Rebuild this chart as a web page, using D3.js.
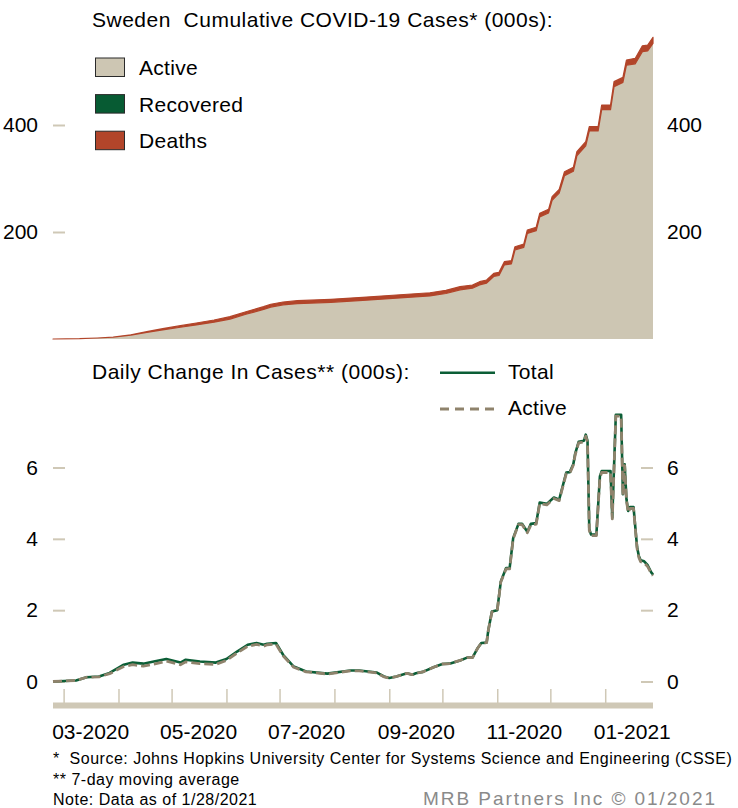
<!DOCTYPE html>
<html>
<head>
<meta charset="utf-8">
<script src="https://cdn.jsdelivr.net/npm/d3@7"></script>
<style>
  body { margin: 0; background: #fff; }
  svg { display: block; }
  text { font-family: "Liberation Sans", Arial, Helvetica, sans-serif; fill: #000; }
</style>
</head>
<body>
<svg id="chart" width="738" height="808"></svg>
<script>
// ---- Cumulative cases (000s), stacked: active / recovered / deaths ----
const cumDates = [
  "2020-02-24","2020-03-10","2020-03-20","2020-03-29","2020-04-08","2020-04-17","2020-04-26",
  "2020-05-06","2020-05-15","2020-05-25","2020-06-03","2020-06-12","2020-06-22","2020-06-26",
  "2020-07-03","2020-07-11","2020-07-30","2020-08-17","2020-09-05","2020-09-24","2020-10-03",
  "2020-10-11","2020-10-18","2020-10-22","2020-10-26","2020-10-30","2020-11-02","2020-11-05",
  "2020-11-09","2020-11-11","2020-11-16","2020-11-18","2020-11-23","2020-11-25","2020-11-30",
  "2020-12-02","2020-12-06","2020-12-09","2020-12-14","2020-12-16","2020-12-21","2020-12-23",
  "2020-12-28","2020-12-30","2021-01-04","2021-01-06","2021-01-11","2021-01-13","2021-01-18",
  "2021-01-22","2021-01-25","2021-01-28"
];
const cumActive = [
  0, 0.6, 1.88, 3.59, 7.31, 12.3, 17.1,
  22.0, 26.3, 31.5, 37.2, 46.2, 55.3, 59.7,
  63.8, 66.1, 68.5, 72.1, 76.4, 80.6, 85.1,
  91.9, 95.0, 101.2, 104.4, 116.8, 118.7, 138.5,
  140.3, 166.3, 171.3, 197.3, 202.3, 228.3, 235.6,
  259.1, 272.7, 305.4, 313.4, 342.3, 360.9, 388.8,
  388.8, 428.7, 428.7, 471.7, 479.6, 511.7, 514.4,
  537.0, 538.5, 552.5
];
const cumRecovered = [
  0, 0, 0, 0, 0, 0, 0,
  0, 0, 0, 0, 0, 0, 0,
  0, 0, 0, 0, 0, 0, 0,
  0, 0, 0, 0, 0, 0, 0,
  0, 0, 0, 0, 0, 0, 0,
  0, 0, 0, 0, 0, 0, 0,
  0, 0, 0, 0, 0, 0, 0,
  0, 0, 0
];
const cumDeaths = [
  0, 0, 0.02, 0.11, 0.69, 1.4, 2.2,
  2.9, 3.6, 4.0, 4.5, 4.8, 5.1, 5.2,
  5.4, 5.5, 5.7, 5.8, 5.83, 5.87, 5.89,
  5.9, 5.92, 5.93, 5.94, 5.97, 6.0, 6.05,
  6.1, 6.16, 6.3, 6.4, 6.55, 6.68, 6.8,
  6.95, 7.1, 7.3, 7.5, 7.7, 7.9, 8.0,
  8.0, 8.7, 8.7, 9.3, 9.4, 9.8, 10.3,
  11.0, 11.0, 11.5
];

// ---- Daily change in cases (000s), 7-day moving average ----
const dailyDates = [
  "2020-02-24","2020-03-08","2020-03-14","2020-03-21","2020-03-27","2020-04-04","2020-04-09",
  "2020-04-15","2020-04-21","2020-04-28","2020-05-06","2020-05-09","2020-05-17","2020-05-26",
  "2020-06-01","2020-06-07","2020-06-13","2020-06-18","2020-06-22","2020-06-24","2020-06-29",
  "2020-07-03","2020-07-09","2020-07-16","2020-07-28","2020-08-10","2020-08-15","2020-08-25",
  "2020-08-29","2020-09-01","2020-09-05","2020-09-11","2020-09-14","2020-09-16","2020-09-20",
  "2020-09-26","2020-10-01","2020-10-05","2020-10-11","2020-10-15","2020-10-18","2020-10-21",
  "2020-10-23","2020-10-26","2020-10-27","2020-10-29","2020-11-01","2020-11-03","2020-11-06",
  "2020-11-08","2020-11-10","2020-11-13","2020-11-15","2020-11-18","2020-11-20","2020-11-23",
  "2020-11-25","2020-11-29","2020-12-03","2020-12-06","2020-12-10","2020-12-12","2020-12-14",
  "2020-12-15","2020-12-17","2020-12-20","2020-12-21","2020-12-22","2020-12-23","2020-12-24",
  "2020-12-27","2020-12-29","2020-12-30","2021-01-04","2021-01-05","2021-01-07","2021-01-10",
  "2021-01-11","2021-01-12","2021-01-13","2021-01-14","2021-01-15","2021-01-17","2021-01-19",
  "2021-01-20","2021-01-21","2021-01-23","2021-01-25","2021-01-27","2021-01-28"
];
const dailyTotal = [
  0.00, 0.03, 0.12, 0.14, 0.24, 0.47, 0.53,
  0.50, 0.56, 0.63, 0.53, 0.61, 0.56, 0.53,
  0.63, 0.84, 1.03, 1.08, 1.03, 1.06, 1.08,
  0.75, 0.42, 0.28, 0.22, 0.31, 0.31, 0.25,
  0.14, 0.10, 0.14, 0.23, 0.19, 0.23, 0.27,
  0.40, 0.49, 0.50, 0.59, 0.67, 0.67, 0.94,
  1.08, 1.09, 1.45, 1.96, 2.00, 2.80, 3.18,
  3.18, 4.02, 4.42, 4.42, 4.20, 4.42, 4.44,
  5.02, 4.98, 5.16, 5.10, 5.86, 5.87, 6.10,
  6.38, 6.72, 6.75, 6.92, 6.75, 4.27, 4.12,
  4.12, 5.75, 5.90, 5.90, 4.60, 7.48, 7.48,
  5.25, 6.09, 5.11, 4.78, 4.89, 4.89, 3.77,
  3.52, 3.40, 3.37, 3.26, 3.06, 3.00
];
const dailyActive = [
  0.00, 0.03, 0.12, 0.13, 0.22, 0.42, 0.47,
  0.43, 0.49, 0.57, 0.47, 0.55, 0.50, 0.48,
  0.59, 0.80, 0.99, 1.04, 0.99, 1.03, 1.05,
  0.72, 0.40, 0.27, 0.21, 0.30, 0.30, 0.24,
  0.13, 0.10, 0.14, 0.23, 0.19, 0.23, 0.27,
  0.40, 0.49, 0.50, 0.59, 0.67, 0.67, 0.94,
  1.08, 1.09, 1.45, 1.95, 1.99, 2.79, 3.16,
  3.16, 4.00, 4.40, 4.40, 4.17, 4.39, 4.41,
  4.99, 4.95, 5.13, 5.07, 5.83, 5.84, 6.07,
  6.35, 6.69, 6.72, 6.88, 6.71, 4.24, 4.09,
  4.09, 5.71, 5.86, 5.86, 4.56, 7.44, 7.44,
  5.21, 6.05, 5.07, 4.74, 4.85, 4.85, 3.73,
  3.48, 3.36, 3.33, 3.22, 3.03, 2.97
];

// ---- Tick labels ----
const topTicks = [200, 400];
const bottomTicks = [0, 2, 4, 6];
const monthLabels = ["2020-03-16","2020-05-16","2020-07-16","2020-09-16","2020-11-16","2021-01-16"];

// ---- Colours ----
const C = {
  active: "#cdc6b3",
  recovered: "#075b33",
  deaths: "#b2452a",
  total: "#0b5e36",
  activeLine: "#8f836c",
  axis: "#cfc8b6",
  footer: "#8a8a8a"
};

const FONT = '"Liberation Sans", Arial, sans-serif';
const parse = d3.timeParse("%Y-%m-%d");
const svg = d3.select("#chart");

const x = d3.scaleTime()
  .domain([parse("2020-02-24"), parse("2021-01-28")])
  .range([53, 653]);
const yTop = d3.scaleLinear().domain([0, 400]).range([339, 125]);
const yBot = d3.scaleLinear().domain([0, 6]).range([681.5, 467.5]);

function styleAxis(g) {
  g.select(".domain").remove();
  g.selectAll(".tick line").attr("stroke", C.axis).attr("stroke-width", 2);
  g.selectAll(".tick text").attr("font-size", 21).attr("fill", "#000").attr("font-family", FONT);
}

// ---------- Top chart ----------
svg.append("text").attr("x", 92).attr("y", 27).attr("font-size", 21)
  .attr("letter-spacing", 0.5).attr("xml:space", "preserve")
  .text("Sweden  Cumulative COVID-19 Cases* (000s):");

svg.append("g").attr("transform", "translate(653,0)")
  .call(d3.axisRight(yTop).tickValues(topTicks).tickSize(-12).tickPadding(14))
  .call(styleAxis);

const cumRows = cumDates.map((d, i) => ({
  date: parse(d), active: cumActive[i], recovered: cumRecovered[i], deaths: cumDeaths[i]
}));
const layers = d3.stack().keys(["active", "recovered", "deaths"])(cumRows);
const area = d3.area()
  .x(d => x(d.data.date))
  .y0(d => yTop(d[0]))
  .y1(d => yTop(d[1]));

const layerFill = { active: C.active, recovered: C.recovered, deaths: C.deaths };
svg.append("g").selectAll("path").data(layers).join("path")
  .attr("d", area)
  .attr("fill", d => layerFill[d.key])
  .attr("stroke", d => d.key === "deaths" ? C.deaths : "none")
  .attr("stroke-width", d => d.key === "deaths" ? 1.2 : 0)
  .attr("stroke-linejoin", "round");

svg.append("g").attr("transform", "translate(53,0)")
  .call(d3.axisLeft(yTop).tickValues(topTicks).tickSize(-12).tickPadding(15))
  .call(styleAxis);

// legend
const topLegend = [
  { label: "Active", color: C.active },
  { label: "Recovered", color: C.recovered },
  { label: "Deaths", color: C.deaths }
];
const lg = svg.append("g");
topLegend.forEach((item, i) => {
  const top = 58 + i * 36.6;
  lg.append("rect").attr("x", 95.5).attr("y", top).attr("width", 29).attr("height", 18.5)
    .attr("fill", item.color).attr("stroke", "#2a2a2a").attr("stroke-width", 1);
  lg.append("text").attr("x", 139).attr("y", top + 17).attr("font-size", 21)
    .attr("letter-spacing", 0.3).text(item.label);
});

// ---------- Bottom chart ----------
svg.append("text").attr("x", 92).attr("y", 379).attr("font-size", 21)
  .attr("letter-spacing", 0.5).text("Daily Change In Cases** (000s):");

svg.append("g").attr("transform", "translate(53,0)")
  .call(d3.axisLeft(yBot).tickValues(bottomTicks).tickFormat(d3.format("d")).tickSize(-12).tickPadding(15))
  .call(styleAxis);
svg.append("g").attr("transform", "translate(653,0)")
  .call(d3.axisRight(yBot).tickValues(bottomTicks).tickFormat(d3.format("d")).tickSize(-12).tickPadding(14))
  .call(styleAxis);

const dailyRows = dailyDates.map((d, i) => ({ date: parse(d), total: dailyTotal[i], active: dailyActive[i] }));
const lineTotal = d3.line().x(d => x(d.date)).y(d => yBot(d.total));
const lineActive = d3.line().x(d => x(d.date)).y(d => yBot(d.active));

svg.append("path").datum(dailyRows).attr("d", lineTotal)
  .attr("fill", "none").attr("stroke", C.total).attr("stroke-width", 2.6)
  .attr("stroke-linejoin", "round");
svg.append("path").datum(dailyRows).attr("d", lineActive)
  .attr("fill", "none").attr("stroke", C.activeLine).attr("stroke-width", 2.8)
  .attr("stroke-dasharray", "9,4").attr("stroke-linejoin", "round");

// line legend
svg.append("line").attr("x1", 440).attr("x2", 495).attr("y1", 372.7).attr("y2", 372.7)
  .attr("stroke", C.total).attr("stroke-width", 2.6);
svg.append("text").attr("x", 508).attr("y", 379).attr("font-size", 21)
  .attr("letter-spacing", 0.3).text("Total");
svg.append("line").attr("x1", 440).attr("x2", 495).attr("y1", 409).attr("y2", 409)
  .attr("stroke", C.activeLine).attr("stroke-width", 2.8).attr("stroke-dasharray", "9,6");
svg.append("text").attr("x", 508).attr("y", 415).attr("font-size", 21)
  .attr("letter-spacing", 0.3).text("Active");

// ---------- Time axis ----------
svg.append("rect").attr("x", 53).attr("y", 702.5).attr("width", 600).attr("height", 6)
  .attr("fill", C.axis);
svg.append("g").attr("transform", "translate(0,689)")
  .call(d3.axisBottom(x).ticks(d3.timeMonth.every(1)).tickSize(14).tickFormat(""))
  .call(g => { g.select(".domain").remove(); g.selectAll(".tick line").attr("stroke", C.axis).attr("stroke-width", 1.5); });
svg.append("g").attr("transform", "translate(0,721)")
  .call(d3.axisBottom(x).tickValues(monthLabels.map(parse)).tickSize(0).tickPadding(3)
    .tickFormat(d3.timeFormat("%m-%Y")))
  .call(g => { g.select(".domain").remove(); g.selectAll(".tick text").attr("font-size", 21).attr("fill", "#000")
    .attr("font-family", FONT); });

// ---------- Footnotes ----------
const notes = [
  "*  Source: Johns Hopkins University Center for Systems Science and Engineering (CSSE)",
  "** 7-day moving average",
  "Note: Data as of 1/28/2021"
];
notes.forEach((t, i) => {
  svg.append("text").attr("x", 53).attr("y", 764 + i * 20.5).attr("font-size", 16)
    .attr("letter-spacing", 0.5).attr("xml:space", "preserve").text(t);
});
svg.append("text").attr("x", 423).attr("y", 805).attr("font-size", 19)
  .attr("textLength", 292).attr("lengthAdjust", "spacing")
  .style("fill", C.footer).text("MRB Partners Inc \u00a9 01/2021");
</script>
</body>
</html>
